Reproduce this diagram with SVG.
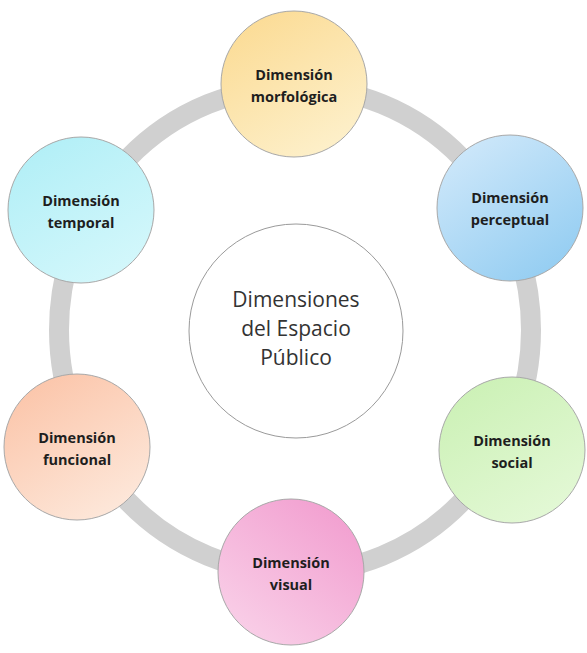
<svg xmlns="http://www.w3.org/2000/svg" width="587" height="653" viewBox="0 0 587 653">
<defs>
<linearGradient id="gMorf" x1="0" y1="0" x2="0.6" y2="1"><stop offset="0" stop-color="#fbd98f"/><stop offset="1" stop-color="#fdefc8"/></linearGradient>
<linearGradient id="gPerc" x1="0.2" y1="0" x2="0.9" y2="1"><stop offset="0" stop-color="#cfe8fa"/><stop offset="1" stop-color="#8fcbf1"/></linearGradient>
<linearGradient id="gSoc" x1="0" y1="0" x2="0.6" y2="1"><stop offset="0" stop-color="#c9f0b2"/><stop offset="1" stop-color="#e2f8d4"/></linearGradient>
<linearGradient id="gVis" x1="0.9" y1="0.1" x2="0.2" y2="1"><stop offset="0" stop-color="#f29fd0"/><stop offset="1" stop-color="#f9d0e8"/></linearGradient>
<linearGradient id="gFun" x1="0" y1="0" x2="0.6" y2="1"><stop offset="0" stop-color="#fbc1a4"/><stop offset="1" stop-color="#fde6d8"/></linearGradient>
<linearGradient id="gTemp" x1="0" y1="0" x2="0.6" y2="1"><stop offset="0" stop-color="#aeeef6"/><stop offset="1" stop-color="#d2f7fb"/></linearGradient>
</defs>
<style>
.node{stroke:#a8a8a8;stroke-width:1}
.lbl{font-family:"Open Sans","Liberation Sans",sans-serif;font-weight:bold;font-size:14.5px;fill:#1e1e1e;text-anchor:middle}
.ctr{font-family:"Open Sans","Liberation Sans",sans-serif;font-size:21px;fill:#333;text-anchor:middle}
</style>
<g id="connectors">
<ellipse cx="295" cy="330" rx="236" ry="243" fill="none" stroke="#d0d0d0" stroke-width="20"/>
</g>
<g id="center">
<circle cx="296" cy="331" r="107" fill="#ffffff" stroke="#9a9a9a" stroke-width="1"/>
<text class="ctr" x="296" y="307">Dimensiones</text>
<text class="ctr" x="296" y="336">del Espacio</text>
<text class="ctr" x="296" y="365">Público</text>
</g>
<g id="morfologica">
<circle class="node" cx="294" cy="84" r="73" fill="url(#gMorf)"/>
<text class="lbl" x="294" y="80">Dimensión</text>
<text class="lbl" x="294" y="102">morfológica</text>
</g>
<g id="perceptual">
<circle class="node" cx="510" cy="208" r="73" fill="url(#gPerc)"/>
<text class="lbl" x="510" y="203">Dimensión</text>
<text class="lbl" x="510" y="225">perceptual</text>
</g>
<g id="social">
<circle class="node" cx="512" cy="450" r="73" fill="url(#gSoc)"/>
<text class="lbl" x="512" y="446">Dimensión</text>
<text class="lbl" x="512" y="468">social</text>
</g>
<g id="visual">
<circle class="node" cx="291" cy="572" r="73" fill="url(#gVis)"/>
<text class="lbl" x="291" y="568">Dimensión</text>
<text class="lbl" x="291" y="590">visual</text>
</g>
<g id="funcional">
<circle class="node" cx="77" cy="447" r="73" fill="url(#gFun)"/>
<text class="lbl" x="77" y="443">Dimensión</text>
<text class="lbl" x="77" y="465">funcional</text>
</g>
<g id="temporal">
<circle class="node" cx="81" cy="210" r="73" fill="url(#gTemp)"/>
<text class="lbl" x="81" y="206">Dimensión</text>
<text class="lbl" x="81" y="228">temporal</text>
</g>
</svg>
